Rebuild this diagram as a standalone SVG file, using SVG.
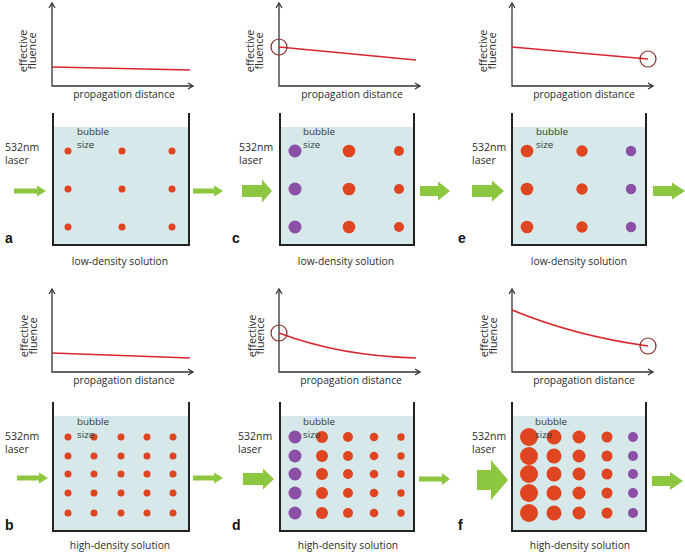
<svg xmlns="http://www.w3.org/2000/svg" width="685" height="558" viewBox="0 0 685 558">
<style>
text{font-family:"Open Sans","Liberation Sans",Arial,sans-serif;fill:#2b2b2b}
.ax{fill:none;stroke:#333;stroke-width:1.3}
.cv{fill:none;stroke:#d8262c;stroke-width:1.6}
.ring{fill:none;stroke:#8a2a2a;stroke-width:1.2}
.lab{font-size:10.3px}
.ef{font-size:10.8px}
.bs{font-size:9.8px;fill:#2e3838}
.las{font-size:10.5px}
.pl{font-size:14px;font-weight:bold;fill:#111;font-family:"Liberation Sans",Arial,sans-serif}
.water{fill:#d6e8e9}
.wall{fill:none;stroke:#222;stroke-width:2}
.o{fill:#df4520}
.p{fill:#8b4fa6}
.arr{fill:#8dc63f}
</style>
<defs>
<g id="axes">
<path class="ax" d="M0,0 V83 H141"/>
<path class="ax" d="M-3,5 L0,0 L3,5 M136,80 L141,83 L136,86"/>
</g>
</defs>

<g id="panel-a">
<use href="#axes" x="52" y="3"/>
<path class="cv" d="M52,67 L190,70"/>
<text class="ef" transform="translate(27,51) rotate(-90)" text-anchor="middle">effective</text>
<text class="ef" transform="translate(36,51) rotate(-90)" text-anchor="middle">fluence</text>
<text class="lab" x="124" y="98" text-anchor="middle">propagation distance</text>
<rect class="water" x="53" y="127" width="136" height="118"/>
<path class="wall" d="M53,113 V245 H189 V113"/>
<g class="o">
<circle cx="68" cy="151" r="3.5"/><circle cx="122" cy="151" r="3.5"/><circle cx="172" cy="151" r="3.5"/>
<circle cx="68" cy="189" r="3.5"/><circle cx="122" cy="189" r="3.5"/><circle cx="172" cy="189" r="3.5"/>
<circle cx="68" cy="227" r="3.5"/><circle cx="122" cy="227" r="3.5"/><circle cx="172" cy="227" r="3.5"/>
</g>
<text class="bs" x="77" y="134.5">bubble</text><text class="bs" x="77" y="147.5">size</text>
<text class="las" x="5" y="151">532nm</text><text class="las" x="5" y="164">laser</text>
<text class="pl" x="5" y="243">a</text>
<text class="lab" x="120" y="265" text-anchor="middle">low-density solution</text>
</g>

<g id="panel-c">
<use href="#axes" x="279" y="3"/>
<path class="cv" d="M279,47 L416,60"/>
<circle class="ring" cx="279" cy="47" r="8"/>
<text class="ef" transform="translate(254,51) rotate(-90)" text-anchor="middle">effective</text>
<text class="ef" transform="translate(263,51) rotate(-90)" text-anchor="middle">fluence</text>
<text class="lab" x="352" y="98" text-anchor="middle">propagation distance</text>
<rect class="water" x="280" y="127" width="134" height="118"/>
<path class="wall" d="M280,113 V245 H414 V113"/>
<g class="p"><circle cx="295" cy="151" r="6.5"/><circle cx="295" cy="189" r="6.5"/><circle cx="295" cy="227" r="6.5"/></g>
<g class="o">
<circle cx="349" cy="151" r="6.3"/><circle cx="349" cy="189" r="6.3"/><circle cx="349" cy="227" r="6.3"/>
<circle cx="399" cy="151" r="5"/><circle cx="399" cy="189" r="5"/><circle cx="399" cy="227" r="5"/>
</g>
<text class="bs" x="303" y="134.5">bubble</text><text class="bs" x="303" y="147.5">size</text>
<text class="las" x="239" y="151">532nm</text><text class="las" x="239" y="164">laser</text>
<text class="pl" x="232" y="243">c</text>
<text class="lab" x="346" y="265" text-anchor="middle">low-density solution</text>
</g>

<g id="panel-e">
<use href="#axes" x="512" y="3"/>
<path class="cv" d="M512,47 L648,59"/>
<circle class="ring" cx="648" cy="59" r="8"/>
<text class="ef" transform="translate(487,51) rotate(-90)" text-anchor="middle">effective</text>
<text class="ef" transform="translate(496,51) rotate(-90)" text-anchor="middle">fluence</text>
<text class="lab" x="584" y="98" text-anchor="middle">propagation distance</text>
<rect class="water" x="512" y="127" width="134" height="118"/>
<path class="wall" d="M512,113 V245 H646 V113"/>
<g class="o">
<circle cx="527" cy="151" r="6.3"/><circle cx="527" cy="189" r="6.3"/><circle cx="527" cy="227" r="6.3"/>
<circle cx="582" cy="151" r="5.7"/><circle cx="582" cy="189" r="5.7"/><circle cx="582" cy="227" r="5.7"/>
</g>
<g class="p"><circle cx="631" cy="151" r="5.2"/><circle cx="631" cy="189" r="5.2"/><circle cx="631" cy="227" r="5.2"/></g>
<text class="bs" x="536" y="134.5">bubble</text><text class="bs" x="536" y="147.5">size</text>
<text class="las" x="472" y="151">532nm</text><text class="las" x="472" y="164">laser</text>
<text class="pl" x="458" y="243">e</text>
<text class="lab" x="579" y="265" text-anchor="middle">low-density solution</text>
</g>

<g id="panel-b">
<use href="#axes" x="52" y="289"/>
<path class="cv" d="M52,353 L190,358"/>
<text class="ef" transform="translate(28,336) rotate(-90)" text-anchor="middle">effective</text>
<text class="ef" transform="translate(37,336) rotate(-90)" text-anchor="middle">fluence</text>
<text class="lab" x="124" y="384" text-anchor="middle">propagation distance</text>
<rect class="water" x="53" y="416" width="136" height="115"/>
<path class="wall" d="M53,402 V531 H189 V402"/>
<g class="o">
<circle cx="68" cy="437" r="3.5"/><circle cx="94" cy="437" r="3.5"/><circle cx="121" cy="437" r="3.5"/><circle cx="147" cy="437" r="3.5"/><circle cx="173" cy="437" r="3.5"/>
<circle cx="68" cy="456" r="3.5"/><circle cx="94" cy="456" r="3.5"/><circle cx="121" cy="456" r="3.5"/><circle cx="147" cy="456" r="3.5"/><circle cx="173" cy="456" r="3.5"/>
<circle cx="68" cy="474" r="3.5"/><circle cx="94" cy="474" r="3.5"/><circle cx="121" cy="474" r="3.5"/><circle cx="147" cy="474" r="3.5"/><circle cx="173" cy="474" r="3.5"/>
<circle cx="68" cy="493" r="3.5"/><circle cx="94" cy="493" r="3.5"/><circle cx="121" cy="493" r="3.5"/><circle cx="147" cy="493" r="3.5"/><circle cx="173" cy="493" r="3.5"/>
<circle cx="68" cy="513" r="3.5"/><circle cx="94" cy="513" r="3.5"/><circle cx="121" cy="513" r="3.5"/><circle cx="147" cy="513" r="3.5"/><circle cx="173" cy="513" r="3.5"/>
</g>
<text class="bs" x="77" y="424.5">bubble</text><text class="bs" x="77" y="437.5">size</text>
<text class="las" x="5" y="440">532nm</text><text class="las" x="5" y="453">laser</text>
<text class="pl" x="5" y="530">b</text>
<text class="lab" x="120" y="549" text-anchor="middle">high-density solution</text>
</g>

<g id="panel-d">
<use href="#axes" x="279" y="289"/>
<path class="cv" d="M279,333 Q340,356 416,358"/>
<circle class="ring" cx="279" cy="333" r="8"/>
<text class="ef" transform="translate(256,336) rotate(-90)" text-anchor="middle">effective</text>
<text class="ef" transform="translate(264,336) rotate(-90)" text-anchor="middle">fluence</text>
<text class="lab" x="351" y="384" text-anchor="middle">propagation distance</text>
<rect class="water" x="280" y="416" width="134" height="115"/>
<path class="wall" d="M280,402 V531 H414 V402"/>
<g class="p">
<circle cx="295" cy="437" r="6.5"/><circle cx="295" cy="456" r="6.5"/><circle cx="295" cy="474" r="6.5"/><circle cx="295" cy="493" r="6.5"/><circle cx="295" cy="513" r="6.5"/>
</g>
<g class="o">
<circle cx="322" cy="437" r="6"/><circle cx="322" cy="456" r="6"/><circle cx="322" cy="474" r="6"/><circle cx="322" cy="493" r="6"/><circle cx="322" cy="513" r="6"/>
<circle cx="348" cy="437" r="5"/><circle cx="348" cy="456" r="5"/><circle cx="348" cy="474" r="5"/><circle cx="348" cy="493" r="5"/><circle cx="348" cy="513" r="5"/>
<circle cx="374" cy="437" r="4.3"/><circle cx="374" cy="456" r="4.3"/><circle cx="374" cy="474" r="4.3"/><circle cx="374" cy="493" r="4.3"/><circle cx="374" cy="513" r="4.3"/>
<circle cx="401" cy="437" r="3.7"/><circle cx="401" cy="456" r="3.7"/><circle cx="401" cy="474" r="3.7"/><circle cx="401" cy="493" r="3.7"/><circle cx="401" cy="513" r="3.7"/>
</g>
<text class="bs" x="303" y="424.5">bubble</text><text class="bs" x="303" y="437.5">size</text>
<text class="las" x="238" y="440">532nm</text><text class="las" x="238" y="453">laser</text>
<text class="pl" x="232" y="530">d</text>
<text class="lab" x="348" y="549" text-anchor="middle">high-density solution</text>
</g>

<g id="panel-f">
<use href="#axes" x="512" y="289"/>
<path class="cv" d="M512,310 Q575,336 648,346"/>
<circle class="ring" cx="648" cy="346" r="8"/>
<text class="ef" transform="translate(488,336) rotate(-90)" text-anchor="middle">effective</text>
<text class="ef" transform="translate(497,336) rotate(-90)" text-anchor="middle">fluence</text>
<text class="lab" x="584" y="384" text-anchor="middle">propagation distance</text>
<rect class="water" x="512" y="416" width="134" height="115"/>
<path class="wall" d="M512,402 V531 H646 V402"/>
<g class="o">
<circle cx="529" cy="437" r="9"/><circle cx="529" cy="456" r="9"/><circle cx="529" cy="474" r="9"/><circle cx="529" cy="493" r="9"/><circle cx="529" cy="513" r="9"/>
<circle cx="554" cy="437" r="7.5"/><circle cx="554" cy="456" r="7.5"/><circle cx="554" cy="474" r="7.5"/><circle cx="554" cy="493" r="7.5"/><circle cx="554" cy="513" r="7.5"/>
<circle cx="579" cy="437" r="6.5"/><circle cx="579" cy="456" r="6.5"/><circle cx="579" cy="474" r="6.5"/><circle cx="579" cy="493" r="6.5"/><circle cx="579" cy="513" r="6.5"/>
<circle cx="607" cy="437" r="5.5"/><circle cx="607" cy="456" r="5.5"/><circle cx="607" cy="474" r="5.5"/><circle cx="607" cy="493" r="5.5"/><circle cx="607" cy="513" r="5.5"/>
</g>
<g class="p">
<circle cx="633" cy="437" r="5"/><circle cx="633" cy="456" r="5"/><circle cx="633" cy="474" r="5"/><circle cx="633" cy="493" r="5"/><circle cx="633" cy="513" r="5"/>
</g>
<text class="bs" x="535" y="424.5">bubble</text><text class="bs" x="535" y="437.5">size</text>
<text class="las" x="472" y="440">532nm</text><text class="las" x="472" y="453">laser</text>
<text class="pl" x="458" y="530">f</text>
<text class="lab" x="580" y="549" text-anchor="middle">high-density solution</text>
</g>

<g id="connectors" class="arr">
<polygon points="14,188.5 37,188.5 37,185.5 46,191 37,196.5 37,193.5 14,193.5"/>
<polygon points="193,188.5 214,188.5 214,185.5 223,191 214,196.5 214,193.5 193,193.5"/>
<polygon points="242,185 262,185 262,179.5 272,191 262,202.5 262,197 242,197"/>
<polygon points="420,186 438,186 438,181.5 450,191 438,200.5 438,196 420,196"/>
<polygon points="472,185 492,185 492,180.5 504,191 492,201.5 492,197 472,197"/>
<polygon points="653,186 672,186 672,182.5 685,191 672,199.5 672,196 653,196"/>
<polygon points="17,475.5 39,475.5 39,472.5 48,478 39,483.5 39,480.5 17,480.5"/>
<polygon points="193,475.5 214,475.5 214,472.5 223,478 214,483.5 214,480.5 193,480.5"/>
<polygon points="243,473 263,473 263,468.5 274,479 263,489.5 263,485 243,485"/>
<polygon points="419,476.5 442,476.5 442,473 450,479 442,485 442,481.5 419,481.5"/>
<polygon points="477,470 491,470 491,460 508,480 491,500 491,490 477,490"/>
<polygon points="652,476 670,476 670,472 683,481 670,490 670,486 652,486"/>
</g>
</svg>
